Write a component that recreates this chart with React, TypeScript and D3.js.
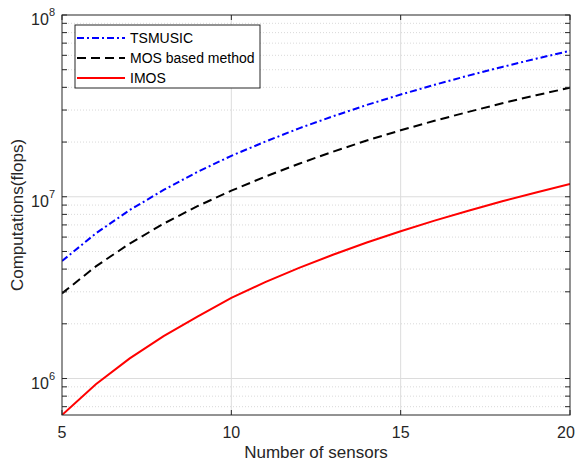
import React from 'react';
import * as d3 from 'd3';

// number of sensors and computation counts (flops)
const sensors = [5, 6, 7, 8, 9, 10, 11, 12, 13, 14, 15, 16, 17, 18, 19, 20];
const tsmusic = [4.43e6, 6.29e6, 8.45e6, 1.09e7, 1.37e7, 1.68e7, 2.01e7, 2.38e7, 2.77e7, 3.2e7, 3.65e7, 4.13e7, 4.64e7, 5.18e7, 5.75e7, 6.35e7];
const mosBased = [2.94e6, 4.14e6, 5.53e6, 7.11e6, 8.88e6, 1.08e7, 1.29e7, 1.52e7, 1.77e7, 2.04e7, 2.32e7, 2.62e7, 2.93e7, 3.27e7, 3.62e7, 3.98e7];
const imos = [6.3e5, 9.3e5, 1.29e6, 1.71e6, 2.19e6, 2.78e6, 3.39e6, 4.06e6, 4.8e6, 5.6e6, 6.46e6, 7.39e6, 8.38e6, 9.44e6, 1.056e7, 1.175e7];

const xTicks = [5, 10, 15, 20];
const yExponents = [6, 7, 8];
const legendLabels = ['TSMUSIC', 'MOS based method', 'IMOS'];

const W = 577, H = 464;
const m = { left: 62, right: 7, top: 15, bottom: 49 };
const FONT = '"Liberation Sans", Arial, sans-serif';
const AX = '#262626';

const App = () => {
    const x = d3.scaleLinear().domain([5, 20]).range([m.left, W - m.right]);
    const y = d3.scaleLog().domain([6.3e5, 1e8]).range([H - m.bottom, m.top]);
    const x0 = m.left, x1 = W - m.right, y0 = H - m.bottom, y1 = m.top;

    // minor ticks 2..9 per decade inside the domain
    const minor: number[] = [];
    for (let e = 5; e < 8; e++) {
        for (let k = 2; k <= 9; k++) {
            const v = k * Math.pow(10, e);
            if (v >= 6.3e5 && v <= 1e8) minor.push(v);
        }
    }

    const line = d3.line<number>()
        .x((d, i) => x(sensors[i]))
        .y(d => y(d));

    const series = [
        { name: legendLabels[0], values: tsmusic, color: '#0000ff', dash: '7,3,2,3' },
        { name: legendLabels[1], values: mosBased, color: '#000000', dash: '9,5' },
        { name: legendLabels[2], values: imos, color: '#ff0000', dash: null },
    ];

    return (
        <svg width={W} height={H} style={{ position: 'absolute', left: 0, top: 0 }} fontFamily={FONT}>
            <defs>
                <clipPath id="plot"><rect x={x0} y={y1} width={x1 - x0} height={y0 - y1} /></clipPath>
            </defs>
            <rect x={0} y={0} width={W} height={H} fill="white" />

            {/* grid */}
            {minor.map(v => (
                <line key={'mg' + v} x1={x0} x2={x1} y1={y(v)} y2={y(v)}
                      stroke="#c8c8c8" strokeWidth={0.7} strokeDasharray="1,2" />
            ))}
            {yExponents.slice(0, 2).map(e => (
                <line key={'gy' + e} x1={x0} x2={x1} y1={y(Math.pow(10, e))} y2={y(Math.pow(10, e))}
                      stroke="#dcdcdc" strokeWidth={1} />
            ))}
            {xTicks.slice(1, 3).map(t => (
                <line key={'gx' + t} x1={x(t)} x2={x(t)} y1={y0} y2={y1}
                      stroke="#dcdcdc" strokeWidth={1} />
            ))}

            {/* curves */}
            <g clipPath="url(#plot)">
                {series.map(s => (
                    <path key={s.name} d={line(s.values) || ''} fill="none" stroke={s.color}
                          strokeWidth={2} strokeDasharray={s.dash || undefined} />
                ))}
            </g>

            {/* box and ticks */}
            <rect x={x0} y={y1} width={x1 - x0} height={y0 - y1} fill="none" stroke={AX} strokeWidth={1} />
            {xTicks.map(t => (
                <g key={'xt' + t}>
                    <line x1={x(t)} x2={x(t)} y1={y0} y2={y0 - 5} stroke={AX} />
                    <line x1={x(t)} x2={x(t)} y1={y1} y2={y1 + 5} stroke={AX} />
                    <text x={Math.min(x(t), W - 11)} y={y0 + 23} textAnchor="middle" fontSize={16} fill={AX}>{t}</text>
                </g>
            ))}
            {minor.concat(yExponents.map(e => Math.pow(10, e))).map(v => (
                <g key={'yt' + v}>
                    <line x1={x0} x2={x0 + 5} y1={y(v)} y2={y(v)} stroke={AX} />
                    <line x1={x1} x2={x1 - 5} y1={y(v)} y2={y(v)} stroke={AX} />
                </g>
            ))}
            {yExponents.map(e => (
                <text key={'yl' + e} x={55} y={y(Math.pow(10, e)) + 10} textAnchor="end" fontSize={16} fill={AX}>
                    10<tspan dy={-9} fontSize={11}>{e}</tspan>
                </text>
            ))}

            {/* axis labels */}
            <text x={(x0 + x1) / 2} y={H - 6} textAnchor="middle" fontSize={17} fill={AX}>Number of sensors</text>
            <text transform={`translate(23 ${(y0 + y1) / 2}) rotate(-90)`} textAnchor="middle"
                  fontSize={17} fill={AX}>Computations(flops)</text>

            {/* legend */}
            <g>
                <rect x={75} y={25} width={185} height={63} fill="white" stroke={AX} strokeWidth={1} />
                {series.map((s, i) => (
                    <g key={'lg' + s.name} transform={`translate(0 ${38 + i * 20})`}>
                        <line x1={77} x2={125} y1={0} y2={0} stroke={s.color} strokeWidth={2}
                              strokeDasharray={s.dash || undefined} />
                        <text x={130} y={5} fontSize={14} fill="#000">{s.name}</text>
                    </g>
                ))}
            </g>
        </svg>
    );
};

export default App;
